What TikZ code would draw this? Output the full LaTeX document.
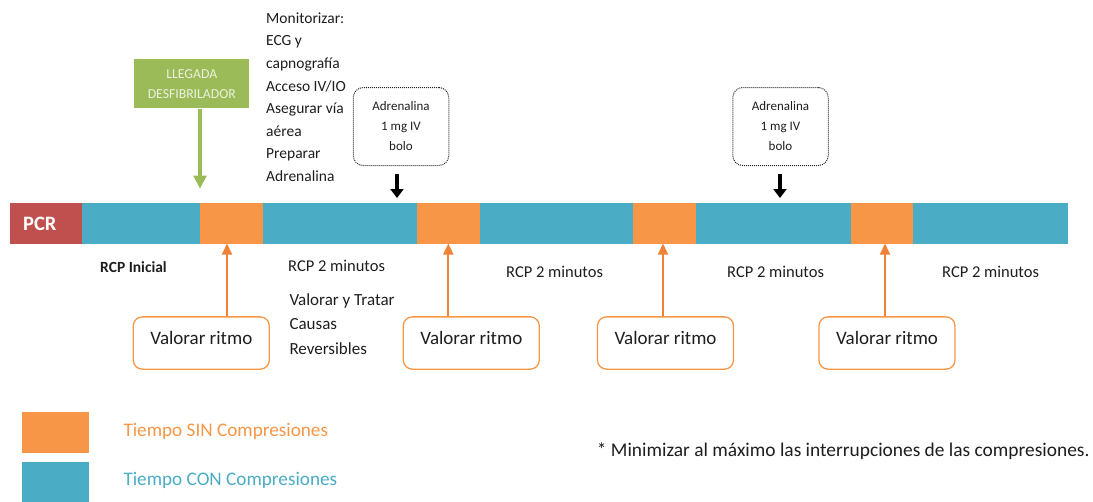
\documentclass[tikz,border=0pt]{standalone}
\usepackage{fontspec}
\setmainfont{Carlito}
\usetikzlibrary{arrows.meta,calc}
\definecolor{pcrred}{HTML}{C0504D}
\definecolor{conblue}{HTML}{4BACC6}
\definecolor{sinorange}{HTML}{F79646}
\definecolor{arrorange}{HTML}{EE8236}
\definecolor{llgreen}{HTML}{9BBB59}
\definecolor{lltext}{HTML}{EBF1DE}
\definecolor{txt}{HTML}{1E1E1E}
\newcommand{\fsz}[2]{\fontsize{#1}{#2}\selectfont}
\begin{document}
\begin{tikzpicture}[x=1pt,y=-1pt,
  seg/.style={draw=none,inner sep=0,minimum height=40.5pt,anchor=north west},
  lbl/.style={inner sep=0,anchor=base west,text=txt},
  valbox/.style={draw=sinorange,line width=1.3pt,rounded corners=9pt,minimum width=136pt,minimum height=52.3pt,inner sep=0,text=txt,font=\fsz{19}{23},text height=10pt,text depth=8pt},
  adbox/.style={draw=black!85,densely dotted,line width=1pt,rounded corners=10pt,minimum width=95.5pt,minimum height=78pt,inner sep=0,text=txt,font=\fsz{13}{20},align=center},
  oarr/.style={draw=arrorange,line width=1.8pt,-{Triangle[width=10pt,length=11pt]}},
  karr/.style={draw=black,line width=4pt,-{Triangle[width=13pt,length=9pt]}},
  garr/.style={draw=llgreen,line width=4.5pt,-{Triangle[width=13pt,length=13pt]}}]
\useasboundingbox (0,0) rectangle (1093,501);
% timeline bar
\node[seg,fill=pcrred,minimum width=71.5pt] (pcr) at (10,203) {};
\node[seg,fill=conblue,minimum width=118.5pt] (b1) at (81.5,203) {};
\node[seg,fill=sinorange,minimum width=62.3pt] (o1) at (200,203) {};
\node[seg,fill=conblue,minimum width=154.5pt] (b2) at (262.3,203) {};
\node[seg,fill=sinorange,minimum width=63.2pt] (o2) at (416.8,203) {};
\node[seg,fill=conblue,minimum width=153pt] (b3) at (480,203) {};
\node[seg,fill=sinorange,minimum width=63pt] (o3) at (633,203) {};
\node[seg,fill=conblue,minimum width=155pt] (b4) at (696,203) {};
\node[seg,fill=sinorange,minimum width=62pt] (o4) at (851,203) {};
\node[seg,fill=conblue,minimum width=155pt] (b5) at (913,203) {};
\node[inner sep=0,anchor=base west,text=white,font=\fsz{20.5}{24}\bfseries] (pcrt) at (23,230) {PCR};
% defibrillator arrival
\node[fill=llgreen,text=lltext,minimum width=115pt,minimum height=49pt,inner sep=0,font=\fsz{13.7}{20},align=center] (lleg) at (191.8,83.8) {LLEGADA\\DESFIBRILADOR};
\coordinate (gtip) at (200,188.5);
\draw[garr] (lleg.south -| gtip) -- (gtip);
% monitor text
\node[lbl] (mon) at (266,23.3) {\fsz{15.5}{22.6}\begin{tabular}[t]{@{}l@{}}Monitorizar:\\ECG y\\capnografía\\Acceso IV/IO\\Asegurar vía\\aérea\\Preparar\\Adrenalina\end{tabular}};
% adrenaline boxes
\node[adbox] (ad1) at (401,126.5) {Adrenalina\\1 mg IV\\bolo};
\node[adbox] (ad2) at (780.5,126.5) {Adrenalina\\1 mg IV\\bolo};
\coordinate (k1) at (397,198);
\coordinate (k2) at (780,198);
\draw[karr] ($(ad1.south -| k1)+(0,7.5)$) -- (k1);
\draw[karr] ($(ad2.south -| k2)+(0,8)$) -- (k2);
% rhythm boxes
\node[valbox] (v1) at (201.3,343) {Valorar ritmo};
\node[valbox] (v2) at (471.3,343) {Valorar ritmo};
\node[valbox] (v3) at (665.5,343) {Valorar ritmo};
\node[valbox] (v4) at (887,343) {Valorar ritmo};
\coordinate (a1) at (227,243.5);
\coordinate (a2) at (448.3,243.5);
\coordinate (a3) at (663,243.5);
\coordinate (a4) at (885,243.5);
\draw[oarr] (v1.north -| a1) -- (a1);
\draw[oarr] (v2.north -| a2) -- (a2);
\draw[oarr] (v3.north -| a3) -- (a3);
\draw[oarr] (v4.north -| a4) -- (a4);
% labels under bar
\node[lbl,font=\fsz{15.5}{18}\bfseries] (rcpi) at (100,272.7) {RCP Inicial};
\node[lbl,font=\fsz{16.5}{20}] (rcp1) at (288,271.7) {RCP 2 minutos};
\node[lbl,font=\fsz{16.5}{20}] (rcp2) at (506,277) {RCP 2 minutos};
\node[lbl,font=\fsz{16.5}{20}] (rcp3) at (727,277) {RCP 2 minutos};
\node[lbl,font=\fsz{16.5}{20}] (rcp4) at (942,277) {RCP 2 minutos};
\node[lbl] (caus) at (289.3,305) {\fsz{17}{24.5}\begin{tabular}[t]{@{}l@{}}Valorar y Tratar\\Causas\\Reversibles\end{tabular}};
% legend
\node[seg,fill=sinorange,minimum width=66.6pt,minimum height=41pt] (lo) at (21.7,411.7) {};
\node[seg,fill=conblue,minimum width=66.6pt,minimum height=40pt] (lb) at (21.7,461.7) {};
\node[lbl,text=sinorange,font=\fsz{19.2}{23}] (los) at (123.3,436) {Tiempo SIN Compresiones};
\node[lbl,text=conblue,font=\fsz{19.2}{23}] (lbs) at (123.3,485) {Tiempo CON Compresiones};
\node[lbl,font=\fsz{19.4}{23}] (note) at (596.7,456.7) {* Minimizar al máximo las interrupciones de las compresiones.};
\end{tikzpicture}
\end{document}
